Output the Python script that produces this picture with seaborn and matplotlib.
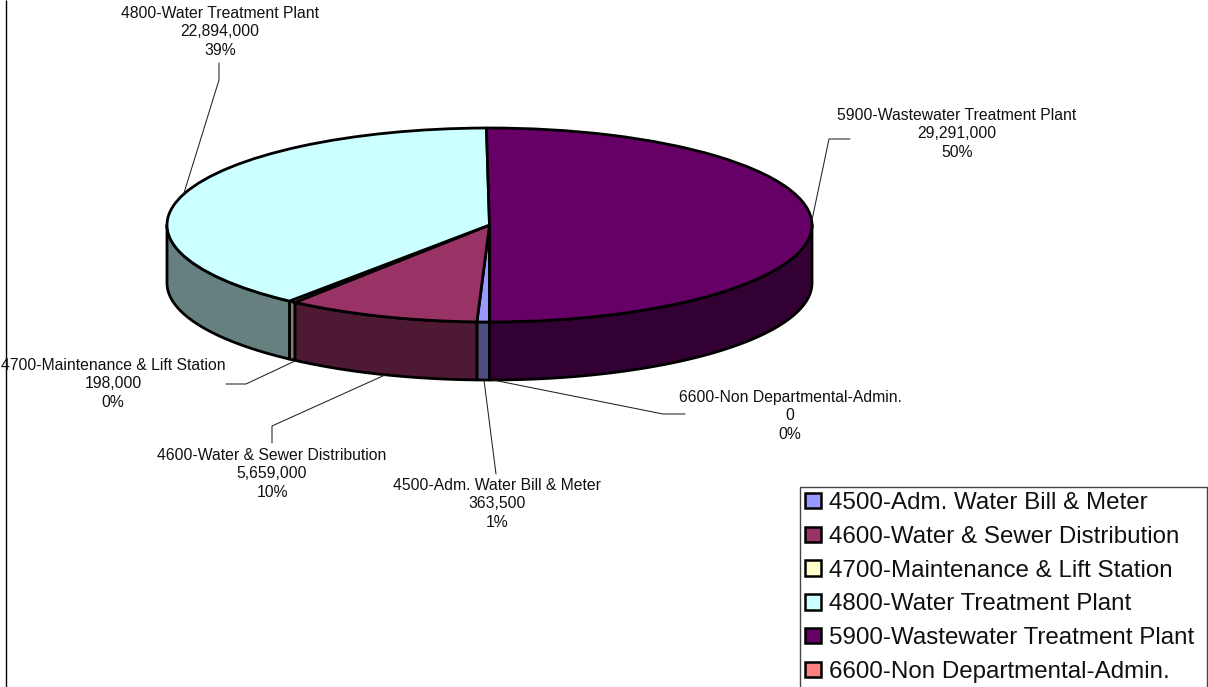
import numpy as np
import matplotlib
matplotlib.use("Agg")
import matplotlib.pyplot as plt
from matplotlib.patches import Patch
import seaborn as sns

categories = ["4500-Adm. Water Bill & Meter", "4600-Water & Sewer Distribution",
              "4700-Maintenance & Lift Station", "4800-Water Treatment Plant",
              "5900-Wastewater Treatment Plant", "6600-Non Departmental-Admin."]
values = [363500, 5659000, 198000, 22894000, 29291000, 0]
percents = ["1%", "10%", "0%", "39%", "50%", "0%"]
top_colors = ["#9999FF", "#993366", "#FFFFCC", "#CCFFFF", "#660066", "#FF8080"]
side_colors = ["#4D4D80", "#4D1933", "#808066", "#668080", "#330033", "#804040"]

W, H = 1208, 687
sns.set_theme(style="white")
plt.rcParams["font.family"] = ["Liberation Sans", "DejaVu Sans"]
palette = sns.color_palette(top_colors)

fig = plt.figure(figsize=(W / 100, H / 100), dpi=100, facecolor="white")

# Overlay in pixel coordinates for the frame, labels and leader lines
ov = fig.add_axes([0, 0, 1, 1], zorder=3)
ov.set_xlim(0, W)
ov.set_ylim(H, 0)
ov.axis("off")
ov.patch.set_alpha(0)

# Pie: unit circle squashed into an ellipse by the axes box
left, right, top, bottom = 167, 812, 128, 322
depth_px = 58
ax = fig.add_axes([left / W, 1 - bottom / H, (right - left) / W, (bottom - top) / H], zorder=2)
depth = depth_px / ((bottom - top) / 2)

LW = 2.0
wedges, _ = ax.pie(values, colors=palette, startangle=270, counterclock=False, radius=1,
                   wedgeprops=dict(edgecolor="black", linewidth=LW, joinstyle="round", clip_on=False, zorder=3))
ax.set_aspect("auto")
ax.set_xlim(-1, 1)
ax.set_ylim(-1, 1)
ax.axis("off")

# Extruded front walls, derived from the slice angles
fractions = np.array(values, dtype=float) / np.sum(values)
ends = 270 - 360 * np.cumsum(fractions)
starts = np.concatenate([[270], ends[:-1]])
for hi, lo, col in zip(starts, ends, side_colors):
    for shift in (0, 360):
        s2, e2 = max(lo + shift, 180), min(hi + shift, 360)
        if e2 > s2:
            t = np.radians(np.linspace(s2, e2, 100))
            xs = np.concatenate([np.cos(t), np.cos(t[::-1])])
            ys = np.concatenate([np.sin(t), np.sin(t[::-1]) - depth])
            ax.fill(xs, ys, facecolor=col, edgecolor="black", linewidth=LW, joinstyle="round",
                    clip_on=False, zorder=2)

# Frame line at the left
ov.plot([6, 6], [0, H], color="black", lw=1.0, solid_capstyle="butt")

# Data labels
label_pos = {0: (497, 504), 1: (272, 474), 2: (113, 384), 3: (220, 32), 4: (957, 134), 5: (790, 416)}
for i, (x, y) in label_pos.items():
    ov.text(x, y, f"{categories[i]}\n{values[i]:,}\n{percents[i]}", ha="center", va="center",
            fontsize=11.3, color="#111111", linespacing=1.29)

# Leader lines
leaders = [
    ([484, 496], [380, 474]),
    ([272, 272, 385], [443, 426, 375]),
    ([226, 246, 295], [384, 384, 361]),
    ([219, 219, 184], [63, 80, 193]),
    ([850, 829, 812], [139, 139, 220]),
    ([685, 663, 493], [414, 414, 380]),
]
for xs, ys in leaders:
    ov.plot(xs, ys, color="#222222", lw=0.75, solid_joinstyle="miter")

# Legend
handles = [Patch(facecolor=c, edgecolor="black", linewidth=1.8) for c in palette]
leg = fig.legend(handles, categories, loc="lower left", mode="expand",
                 bbox_to_anchor=(800 / W, 1 - 688 / H, 407 / W, 0.3), bbox_transform=fig.transFigure,
                 fontsize=17.4, frameon=True, fancybox=False, edgecolor="#444444", framealpha=1,
                 handlelength=0.68, handleheight=0.6, handletextpad=0.32, labelspacing=0.49,
                 borderpad=0.2, borderaxespad=0, labelcolor="#111111")
leg.get_frame().set_linewidth(1.0)
leg.set_zorder(5)

fig.savefig("out.png", dpi=100)
